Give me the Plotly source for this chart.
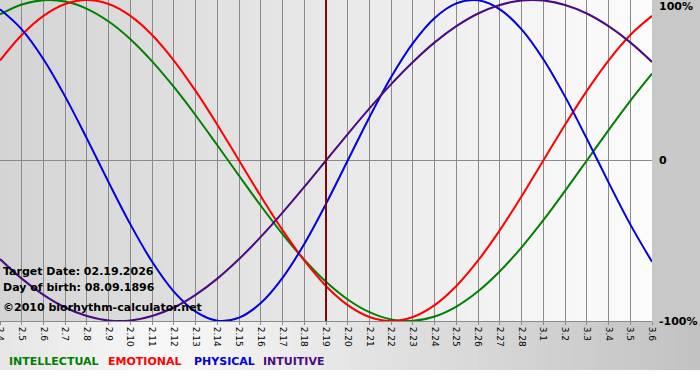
import plotly.graph_objects as go

# ---- data ----
day_labels = ["2.4", "2.5", "2.6", "2.7", "2.8", "2.9", "2.10", "2.11", "2.12", "2.13",
              "2.14", "2.15", "2.16", "2.17", "2.18", "2.19", "2.20", "2.21", "2.22", "2.23",
              "2.24", "2.25", "2.26", "2.27", "2.28", "3.1", "3.2", "3.3", "3.4", "3.5", "3.6"]

intellectual = [0.910, 0.972, 0.999, 0.990, 0.945, 0.866, 0.756, 0.618, 0.458, 0.282,
                0.095, -0.095, -0.282, -0.458, -0.618, -0.756, -0.866, -0.945, -0.990, -0.999,
                -0.972, -0.910, -0.815, -0.690, -0.541, -0.372, -0.189, 0.000, 0.189, 0.372, 0.541]
emotional = [0.623, 0.782, 0.901, 0.975, 1.000, 0.975, 0.901, 0.782, 0.623, 0.434,
             0.223, 0.000, -0.223, -0.434, -0.623, -0.782, -0.901, -0.975, -1.000, -0.975,
             -0.901, -0.782, -0.623, -0.434, -0.223, 0.000, 0.223, 0.434, 0.623, 0.782, 0.901]
physical = [0.942, 0.817, 0.631, 0.398, 0.136, -0.136, -0.398, -0.631, -0.817, -0.942,
            -0.998, -0.979, -0.888, -0.731, -0.520, -0.270, 0.000, 0.270, 0.520, 0.731,
            0.888, 0.979, 0.998, 0.942, 0.817, 0.631, 0.398, 0.136, -0.136, -0.398, -0.631]
intuitive = [-0.614, -0.736, -0.837, -0.916, -0.969, -0.997, -0.997, -0.969, -0.916, -0.837,
             -0.736, -0.614, -0.476, -0.325, -0.165, 0.000, 0.165, 0.325, 0.476, 0.614,
             0.736, 0.837, 0.916, 0.969, 0.997, 0.997, 0.969, 0.916, 0.837, 0.736, 0.614]

series_names = ["INTELLECTUAL", "EMOTIONAL", "PHYSICAL", "INTUITIVE"]
series_colors = ["#008000", "#ff0000", "#0000e0", "#4b0a82"]
y_tick_vals = [1, 0, -1]
y_tick_text = ["100%", "0", "-100%"]
target_label = "2.19"
info_lines = ["Target Date: 02.19.2026", "Day of birth: 08.09.1896", "©2010 biorhythm-calculator.net"]

W, H = 700, 380
ML, MR, MT, MB = 0, 48, 0, 59
PW = W - ML - MR
PH = H - MT - MB

fig = go.Figure()
x_idx = list(range(len(day_labels)))
for name, vals, col in zip(series_names, [intellectual, emotional, physical, intuitive], series_colors):
    fig.add_trace(go.Scatter(x=x_idx, y=vals, mode="lines", name=name,
                             line=dict(color=col, width=2, shape="spline", smoothing=1.0),
                             hoverinfo="skip", showlegend=False))

shapes = []


def lerp(a, b, t):
    return int(round(a + (b - a) * t))


# plot area gradient (dark grey left -> white right)
N = 60
for i in range(N):
    t = i / (N - 1)
    g = lerp(0xd4, 0xfc, t)
    shapes.append(dict(type="rect", xref="paper", yref="paper", x0=i / N, x1=(i + 1) / N + 0.002,
                       y0=0, y1=1, fillcolor=f"rgb({g},{g},{g})", line=dict(width=0), layer="below"))
# right margin
shapes.append(dict(type="rect", xref="paper", yref="paper", x0=1, x1=W / PW, y0=0, y1=1,
                   fillcolor="#c8c8c8", line=dict(width=0), layer="below"))
# bottom band gradient
yb0 = -(370 - PH) / PH
for i in range(N):
    t = i / (N - 1)
    px = t * W
    if px < 160:
        g = lerp(0xe6, 0xf8, px / 160)
    else:
        g = lerp(0xf8, 0xc2, (px - 160) / (W - 160))
    shapes.append(dict(type="rect", xref="paper", yref="paper",
                       x0=i / N * W / PW, x1=((i + 1) / N + 0.002) * W / PW,
                       y0=yb0, y1=0, fillcolor=f"rgb({g},{g},{g})", line=dict(width=0), layer="below"))

# target date line
tx = day_labels.index(target_label)
shapes.append(dict(type="line", xref="x", yref="paper", x0=tx, x1=tx, y0=0, y1=1,
                   line=dict(color="#7a0a0a", width=2), layer="above"))

annotations = []
for v, txt in zip(y_tick_vals, y_tick_text):
    annotations.append(dict(x=1, xref="paper", y=v, yref="y", text=f"<b>{txt}</b>",
                            showarrow=False, xanchor="left", xshift=5,
                            yanchor="top" if v == 1 else "middle", yshift=2 if v == 1 else 0,
                            font=dict(family="DejaVu Sans", size=11, color="#000000")))
info_y = [271, 287, 307]
for py, txt in zip(info_y, info_lines):
    annotations.append(dict(x=0, xref="paper", y=(PH - py) / PH, yref="paper", text=f"<b>{txt}</b>",
                            showarrow=False, xanchor="left", yanchor="middle", xshift=1,
                            font=dict(family="DejaVu Sans", size=11, color="#000000")))
legend_px = [7, 106, 192, 261]
for px, n, c in zip(legend_px, series_names, series_colors):
    annotations.append(dict(x=px / PW, xref="paper", y=(PH - 362) / PH, yref="paper", text=f"<b>{n}</b>",
                            showarrow=False, xanchor="left", yanchor="middle",
                            font=dict(family="DejaVu Sans", size=11, color=c)))

fig.update_layout(
    width=W, height=H,
    margin=dict(l=ML, r=MR, t=MT, b=MB, autoexpand=False),
    paper_bgcolor="#ffffff", plot_bgcolor="rgba(0,0,0,0)",
    shapes=shapes, annotations=annotations,
    xaxis=dict(range=[0, len(day_labels) - 1], tickmode="array", tickvals=x_idx, ticktext=day_labels,
               tickangle=90, showgrid=True, gridcolor="#8a8a8a", gridwidth=1,
               showline=True, linecolor="#8a8a8a", linewidth=1, mirror=False,
               ticks="outside", ticklen=3, tickcolor="#8a8a8a", zeroline=False,
               ticklabeloverflow="allow",
               tickfont=dict(family="DejaVu Sans", size=9, color="#000000"), fixedrange=True),
    yaxis=dict(range=[-1, 1], showgrid=False, zeroline=True, zerolinecolor="#8a8a8a", zerolinewidth=1,
               showticklabels=False, ticks="", fixedrange=True),
    showlegend=False,
)

fig.write_html("out.html", config={"displayModeBar": False},
               post_script="document.body.style.margin='0';document.body.style.overflow='hidden';")
